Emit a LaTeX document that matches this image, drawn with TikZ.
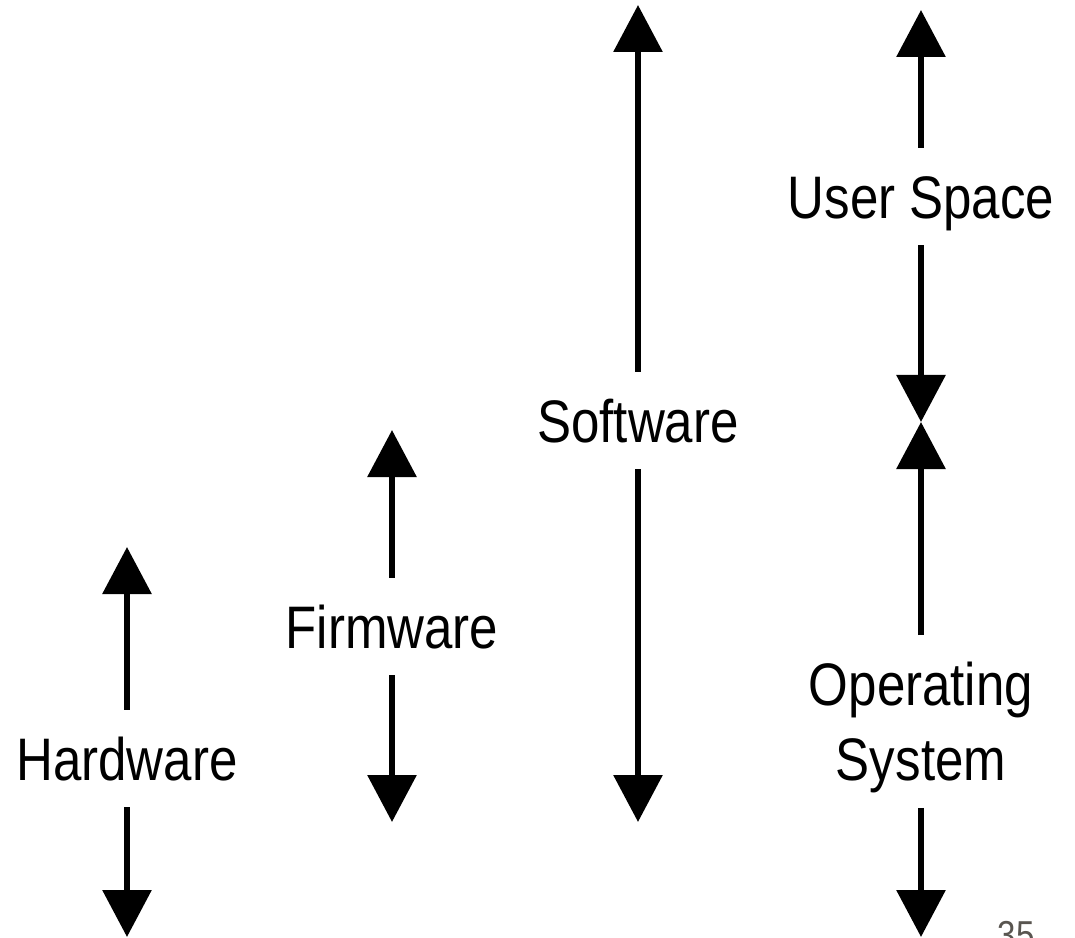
\documentclass[tikz,border=0pt]{standalone}
\usepackage{fontspec}
\setmainfont{Liberation Sans}[FakeStretch=0.85]
\usepackage{xcolor}
\usetikzlibrary{arrows.meta}
\definecolor{pagegrey}{RGB}{89,85,80}
\tikzset{layer/.style={font=\fontsize{42.7}{53.4}\selectfont, inner sep=0pt, text height=30.6pt, text depth=0pt}}
\tikzset{reach/.style={line width=0.155cm, -{Triangle[width=1.2cm, length=1.175cm]}, shorten <=0.675cm}}

\begin{document}
\begin{tikzpicture}
            \useasboundingbox (0,0) rectangle (26.875,23.425);
            % labels
            \node[layer] (hw) at (3.175,4.4625) {Hardware};
            \node[layer] (fw) at (9.8,7.7625) {Firmware};
            \node[layer] (sw) at (15.95,12.9125) {Software};
            \node[layer] (us) at (23.025,18.5125) {User Space};
            \node[font=\fontsize{42.7}{53.4}\selectfont, inner sep=0pt, align=center, anchor=north] (os) at (23.025,6.875) {Operating\\System};
            % arrow tips
            \coordinate (hw-up) at (3.175,9.75);
            \coordinate (hw-down) at (3.175,0);
            \coordinate (fw-up) at (9.8,12.675);
            \coordinate (fw-down) at (9.8,2.875);
            \coordinate (sw-up) at (15.95,23.3);
            \coordinate (sw-down) at (15.95,2.875);
            \coordinate (us-up) at (23.025,23.175);
            \coordinate (us-down) at (23.025,12.875);
            \coordinate (os-down) at (23.025,0);
            % ranges
            \draw[reach] (hw.north) -- (hw-up);
            \draw[reach] (hw.south) -- (hw-down);
            \draw[reach] (fw.north) -- (fw-up);
            \draw[reach] (fw.south) -- (fw-down);
            \draw[reach] (sw.north) -- (sw-up);
            \draw[reach] (sw.south) -- (sw-down);
            \draw[reach] (us.north) -- (us-up);
            \draw[reach] (us.south) -- (us-down);
            \draw[reach] (os.north) -- (us-down);
            \draw[reach, shorten <=0.36cm] (os.south) -- (os-down);
            % slide number
            \node[font=\fontsize{27.7}{33}\selectfont, text=pagegrey, anchor=base] (num) at (25.4,-0.275) {35};
        \end{tikzpicture}
\end{document}
